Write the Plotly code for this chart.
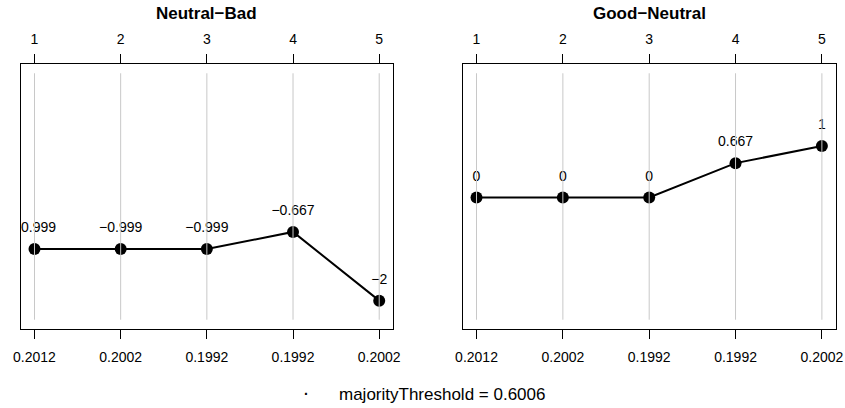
import plotly.graph_objects as go

# ---- data ----
categories = [1, 2, 3, 4, 5]
bottom_labels = ["0.2012", "0.2002", "0.1992", "0.1992", "0.2002"]
top_labels = ["1", "2", "3", "4", "5"]
panel_titles = ["Neutral−Bad", "Good−Neutral"]
neutral_bad = [-0.999, -0.999, -0.999, -0.667, -2]
good_neutral = [0, 0, 0, 0.667, 1]
threshold_label = "majorityThreshold = 0.6006"


def fmt(v):
    s = ("%.3f" % v).rstrip("0").rstrip(".")
    return s.replace("-", "−")


FONT = "Liberation Sans, Arial, Helvetica, sans-serif"
W, H = 845, 408
ytop_px, ybot_px = 64, 329
dom_y = [1 - ybot_px / H, 1 - ytop_px / H]
dom_x = [[20.7 / W, 393.0 / W], [462.7 / W, 835.7 / W]]
xr = [0.84, 5.16]
yr = [-2.55, 2.59]

fig = go.Figure()
series = [neutral_bad, good_neutral]
for i, vals in enumerate(series):
    xa = "x" if i == 0 else "x2"
    ya = "y" if i == 0 else "y2"
    xtop = "x3" if i == 0 else "x4"
    fig.add_trace(go.Scatter(
        x=categories, y=vals, xaxis=xa, yaxis=ya, mode="lines+markers",
        line=dict(color="black", width=2),
        marker=dict(color="black", size=12),
        hoverinfo="skip", showlegend=False, cliponaxis=False))
    fig.add_trace(go.Scatter(
        x=categories, y=vals, xaxis=xa, yaxis=ya, mode="markers+text",
        text=[fmt(v) for v in vals], textposition="top center",
        textfont=dict(family=FONT, size=14, color="black"),
        marker=dict(color="rgba(0,0,0,0)", size=20),
        hoverinfo="skip", showlegend=False, cliponaxis=True))
    # top axis companion
    fig.add_trace(go.Scatter(
        x=categories, y=vals, xaxis=xtop, yaxis=ya, mode="markers",
        marker=dict(color="rgba(0,0,0,0)", size=1),
        hoverinfo="skip", showlegend=False))
    # gridlines above points
    for c in categories:
        fig.add_shape(type="line", xref=xa, yref=ya + " domain",
                      x0=c, x1=c, y0=0.035, y1=0.965,
                      line=dict(color="#c8c8c8", width=1), layer="above")
    # title
    fig.add_annotation(text="<b>%s</b>" % panel_titles[i], xref="paper", yref="paper",
                       x=(dom_x[i][0] + dom_x[i][1]) / 2, y=1 - 14 / H,
                       showarrow=False, font=dict(family=FONT, size=17, color="black"),
                       xanchor="center", yanchor="middle")

common_x = dict(range=xr, tickmode="array", tickvals=categories,
                ticks="outside", ticklen=9, tickcolor="black", tickwidth=1,
                showgrid=False, zeroline=False, fixedrange=True, automargin=False,
                tickfont=dict(family=FONT, size=14, color="black"))
common_y = dict(domain=dom_y, range=yr, showticklabels=False, ticks="",
                showgrid=False, zeroline=False, showline=True, linecolor="black",
                linewidth=1, mirror=True, fixedrange=True, automargin=False)

fig.update_layout(
    width=W, height=H, margin=dict(l=0, r=0, t=0, b=0, autoexpand=False),
    paper_bgcolor="white", plot_bgcolor="white", showlegend=False,
    xaxis=dict(domain=dom_x[0], anchor="y", ticktext=bottom_labels, side="bottom",
               showline=True, linecolor="black", linewidth=1, mirror=True,
               ticklabelstandoff=6, **common_x),
    xaxis2=dict(domain=dom_x[1], anchor="y2", ticktext=bottom_labels, side="bottom",
                showline=True, linecolor="black", linewidth=1, mirror=True,
                ticklabelstandoff=6, **common_x),
    xaxis3=dict(overlaying="x", anchor="y", side="top", ticktext=top_labels,
                showline=False, ticklabelstandoff=4, **common_x),
    xaxis4=dict(overlaying="x2", anchor="y2", side="top", ticktext=top_labels,
                showline=False, ticklabelstandoff=4, **common_x),
    yaxis=dict(anchor="x", **common_y),
    yaxis2=dict(anchor="x2", **common_y),
)

# legend-like annotation at bottom
fig.add_annotation(text="<b>·</b>", xref="paper", yref="paper", x=306 / W, y=1 - 394 / H,
                   showarrow=False, font=dict(family=FONT, size=14, color="black"),
                   xanchor="center", yanchor="middle")
fig.add_annotation(text=threshold_label, xref="paper", yref="paper", x=337 / W, y=1 - 394 / H,
                   showarrow=False, font=dict(family=FONT, size=17, color="black"),
                   xanchor="left", yanchor="middle")

fig.write_html("out.html", config={"displayModeBar": False},
               post_script="document.body.style.margin='0';")
